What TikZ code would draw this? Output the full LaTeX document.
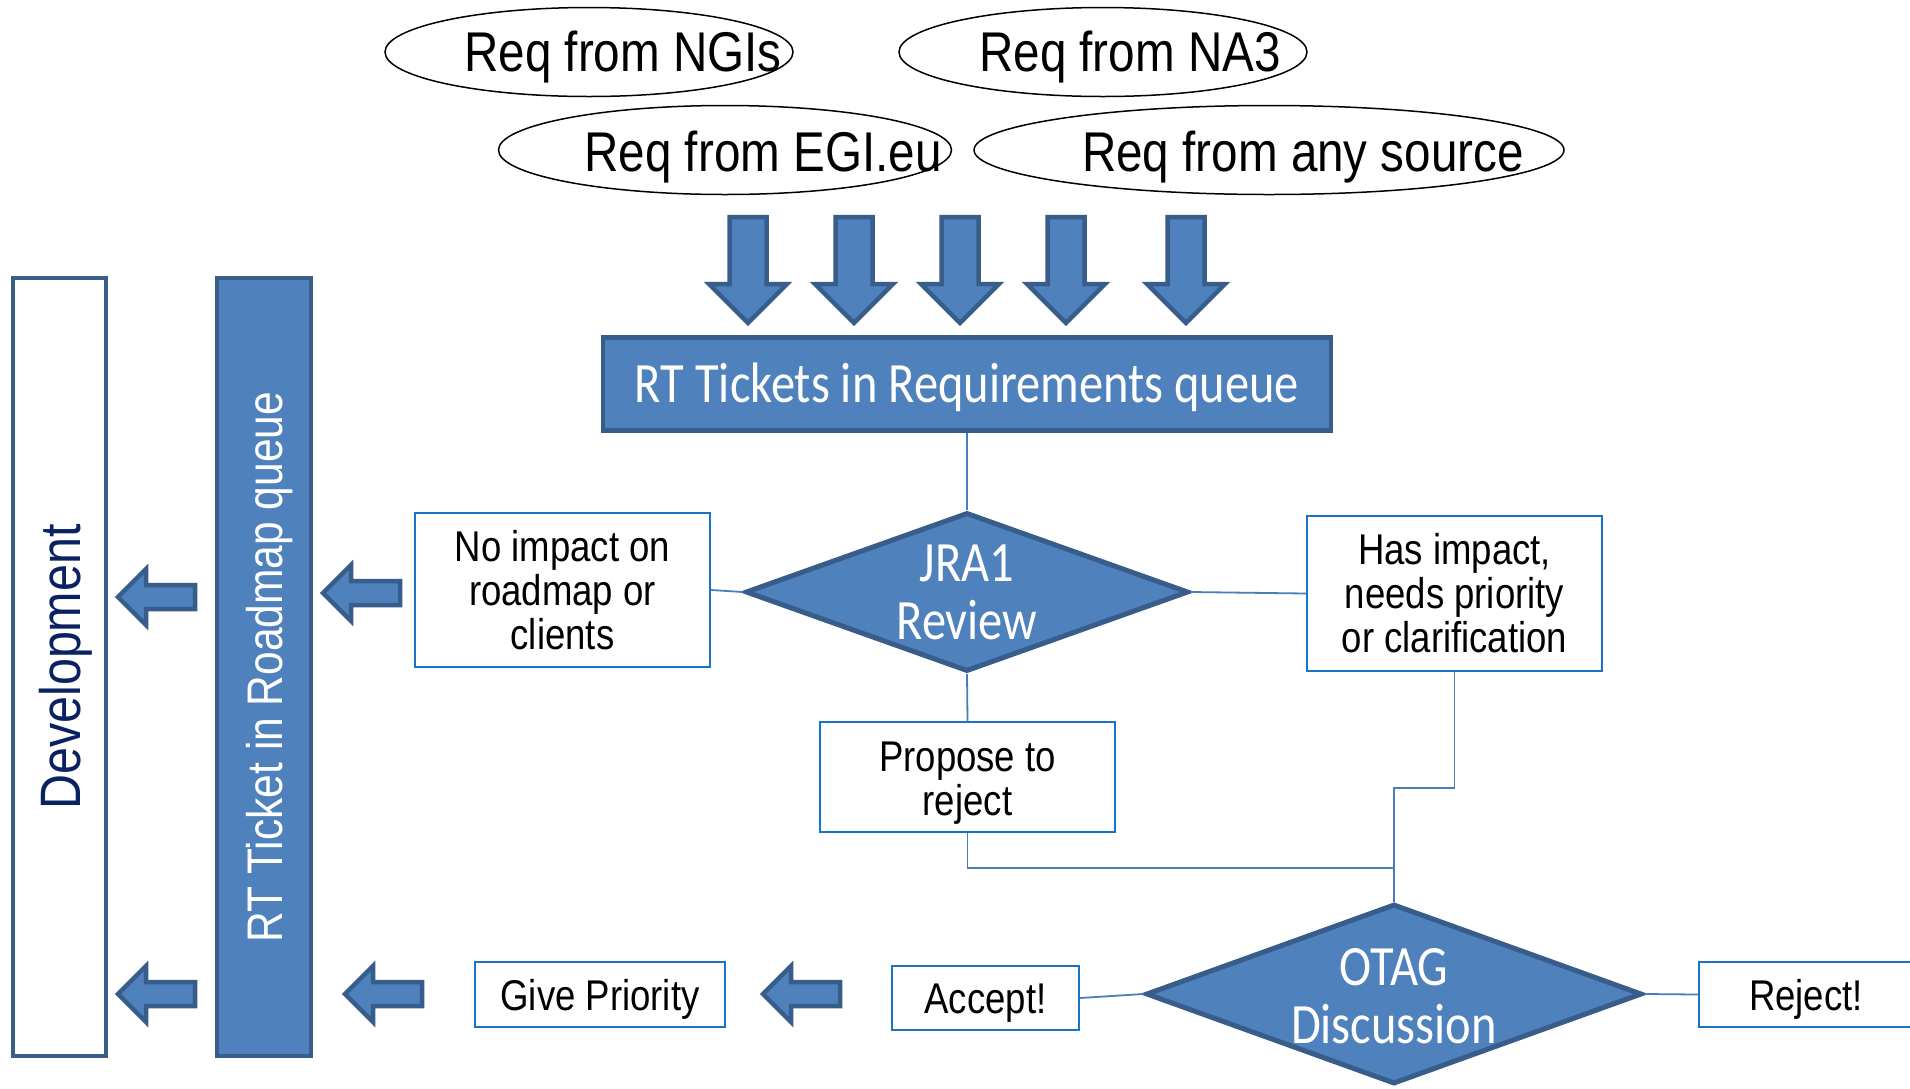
\documentclass[tikz,border=0pt]{standalone}
\usepackage{fontspec}
\setmainfont{Liberation Sans}[FakeStretch=0.85]
\newfontfamily\calib{Carlito}[FakeStretch=0.85]
\usetikzlibrary{shapes.geometric}

\definecolor{bfill}{HTML}{4F81BD}
\definecolor{bedge}{HTML}{385D8A}
\definecolor{lblue}{HTML}{1A74C6}
\definecolor{conn}{HTML}{4A7EBB}
\definecolor{navy}{HTML}{0B2262}

\newcommand\ellfont{\fontsize{56}{60}\selectfont}
\newcommand\boxfont{\fontsize{43}{44}\selectfont}
\newcommand\roadfont{\fontsize{50}{54}\selectfont}
\newcommand\devfont{\fontsize{57}{60}\selectfont}
\newcommand\calfont{\calib\fontsize{57}{58}\selectfont}

\begin{document}
\begin{tikzpicture}[x=1pt,y=-1pt,
  reqell/.style={draw=black, line width=1.5, ellipse, inner sep=0, minimum height=89},
  reqtxt/.style={font=\ellfont, inner sep=0, anchor=base},
  bluebox/.style={rectangle, fill=bfill, draw=bedge, line width=4.5, inner sep=0, text=white},
  bluediam/.style={diamond, fill=bfill, draw=bedge, line width=5, inner sep=0},
  difftxt/.style={font=\calfont, text=white, align=center, inner sep=0},
  txtbox/.style={rectangle, draw=lblue, line width=2, fill=white, font=\boxfont, align=center, inner sep=0},
  boxtxt/.style={font=\boxfont, align=center, inner sep=0},
  onebox/.style={txtbox, text height=31pt, text depth=0pt},
  conn/.style={draw=conn, line width=1.8},
  blk/.style={fill=bfill, draw=bedge, line width=4.5, line join=miter},
  downblk/.pic={\draw[blk] (-18.5,0) -- (18.5,0) -- (18.5,67) -- (39,67) -- (0,106)
                 -- (-39,67) -- (-18.5,67) -- cycle;},
  leftblk/.pic={\draw[blk] (0,0) -- (28,-28) -- (28,-12) -- (77,-12) -- (77,12)
                 -- (28,12) -- (28,28) -- cycle;}
]
\useasboundingbox[fill=white] (0,0) rectangle (1910,1088);

% requirement sources
\node[reqell, minimum width=408] (ngi) at (589,52) {};
\node[reqell, minimum width=408] (na3) at (1103,52) {};
\node[reqell, minimum width=453] (egi) at (725,150) {};
\node[reqell, minimum width=590] (any) at (1269,150) {};
\node[reqtxt] (ngitxt) at (623,71) {Req from NGIs};
\node[reqtxt] (na3txt) at (1130,71) {Req from NA3};
\node[reqtxt] (egitxt) at (763,171) {Req from EGI.eu};
\node[reqtxt] (anytxt) at (1303,171) {Req from any source};

% inflow arrows
\foreach \ax in {748,854,960,1066,1186}
  \pic at (\ax,217) {downblk};

% requirements queue
\node[bluebox, minimum width=728, minimum height=93, font=\calfont,
      text height=36.7pt, text depth=0pt] (req) at (967,384)
  {RT Tickets in Requirements queue};

% first review
\node[bluediam, minimum width=443, minimum height=159, aspect=2.8] (jra) at (967,592) {};
\node[difftxt] (jratxt) at (967,592) {JRA1\\Review};

\node[txtbox, minimum width=295, minimum height=154] (noimp) at (562.5,590)
  {No impact on\\roadmap or\\clients};
\node[txtbox, minimum width=295, minimum height=155] (hasimp) at (1454.5,593.5)
  {Has impact,\\needs priority\\or clarification};
\node[txtbox, minimum width=295, minimum height=110] (propose) at (967.5,777) {};
\node[boxtxt] (proposetxt) at (967.5,783) {Propose to\\reject};

% OTAG decision
\node[bluediam, minimum width=496, minimum height=180, aspect=2.8] (otag) at (1394,994) {};
\node[difftxt] (otagtxt) at (1394,996) {OTAG\\Discussion};

\node[onebox, minimum width=187, minimum height=64] (accept) at (985.5,998) {Accept!};
\node[onebox, minimum width=214, minimum height=65] (reject) at (1806,994.5) {Reject!};
\node[onebox, minimum width=250, minimum height=65] (give) at (600,994.5) {Give Priority};

% queues on the left
\node[bluebox, rotate=90, minimum width=778, minimum height=94, font=\roadfont,
      text height=36pt, text depth=0pt] (road) at (264,667)
  {RT Ticket in Roadmap queue};
\node[rectangle, rotate=90, fill=white, draw=bedge, line width=4.5, inner sep=0,
      minimum width=778, minimum height=93, font=\devfont, text=navy,
      text height=41pt, text depth=0pt] (dev) at (59.5,667) {Development};

% hand-over arrows
\pic at (118,597) {leftblk};
\pic at (323,593) {leftblk};
\pic at (118,994) {leftblk};
\pic at (345,994) {leftblk};
\pic at (763,994) {leftblk};

% connectors
\coordinate (join) at (1394,868);
\coordinate (bend) at (1394,788);
\draw[conn] (req.south) -- (jra.north);
\draw[conn] (jra.west) -- (noimp.east);
\draw[conn] (jra.east) -- (hasimp.west);
\draw[conn] (jra.south) -- (propose.north);
\draw[conn] (propose.south) |- (join);
\draw[conn] (hasimp.south) |- (bend) -- (otag.north);
\draw[conn] (accept.east) -- (otag.west);
\draw[conn] (otag.east) -- (reject.west);
\end{tikzpicture}
\end{document}
